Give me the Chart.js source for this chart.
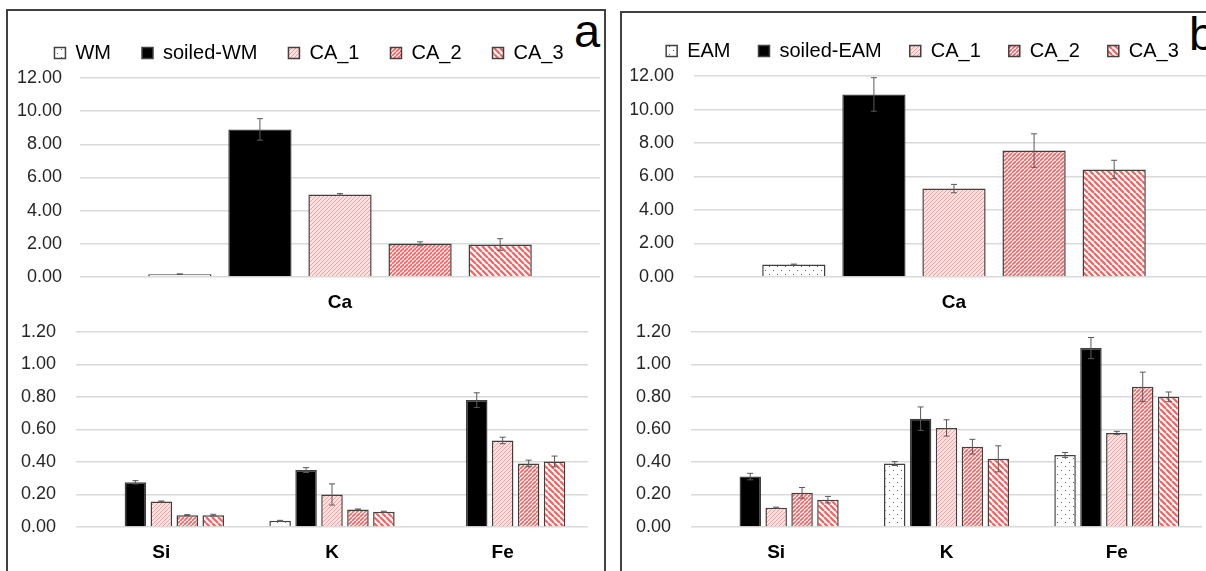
<!DOCTYPE html>
<html>
<head>
<meta charset="utf-8">
<script src="https://cdn.jsdelivr.net/npm/chart.js@4"></script>
<style>
  body { margin: 0; width: 1206px; height: 571px; overflow: hidden; background: #fff; position: relative; font-family: Arial, "Liberation Sans", sans-serif; }
  .panel { position: absolute; border: 2px solid #404040; box-sizing: border-box; }
  canvas { position: absolute; }
  .tag { position: absolute; font-size: 47px; line-height: 47px; color: #000; }
</style>
</head>
<body>
<div class="panel" style="left:6px;top:9px;width:600px;height:620px"></div>
<div class="panel" style="left:620px;top:11px;width:700px;height:620px"></div>
<div class="tag" style="left:574px;top:7px">a</div>
<div class="tag" style="left:1189px;top:10px">b</div>

<canvas id="aTop" width="592" height="305" style="left:8px;top:12px"></canvas>
<canvas id="aBottom" width="580" height="266" style="left:8px;top:301px"></canvas>
<canvas id="bTop" width="594" height="304" style="left:620px;top:13px"></canvas>
<canvas id="bBottom" width="582" height="266" style="left:620px;top:301px"></canvas>

<script>
// categories and series
const topCategories = ['Ca'];
const bottomCategories = ['Si', 'K', 'Fe'];
const seriesA = ['WM', 'soiled-WM', 'CA_1', 'CA_2', 'CA_3'];
const seriesB = ['EAM', 'soiled-EAM', 'CA_1', 'CA_2', 'CA_3'];
const topTicks = [0, 2, 4, 6, 8, 10, 12];
const bottomTicks = [0, 0.2, 0.4, 0.6, 0.8, 1.0, 1.2];

// panel a - Ca, one value per series
const caA = [0.17, 8.90, 4.98, 2.02, 1.96];
const caAErr = [0.02, 0.65, 0.05, 0.10, 0.35];

// panel a - Si, K, Fe
const wmA = [null, 0.038, null];
const soiledA = [0.275, 0.35, 0.78];
const ca1A = [0.157, 0.20, 0.532];
const ca2A = [0.073, 0.108, 0.391];
const ca3A = [0.073, 0.094, 0.403];
const wmAErr = [0, 0.003, 0];
const soiledAErr = [0.01, 0.015, 0.045];
const ca1AErr = [0.003, 0.065, 0.02];
const ca2AErr = [0.003, 0.003, 0.02];
const ca3AErr = [0.005, 0.003, 0.033];

// panel b - Ca
const caB = [0.74, 10.90, 5.28, 7.55, 6.42];
const caBErr = [0.03, 1.0, 0.25, 1.0, 0.55];

// panel b - Si, K, Fe
const eamB = [null, 0.39, 0.443];
const soiledB = [0.31, 0.666, 1.10];
const ca1B = [0.119, 0.609, 0.578];
const ca2B = [0.21, 0.494, 0.862];
const ca3B = [0.168, 0.419, 0.80];
const eamBErr = [0, 0.012, 0.015];
const soiledBErr = [0.02, 0.072, 0.065];
const ca1BErr = [0.003, 0.05, 0.01];
const ca2BErr = [0.033, 0.045, 0.09];
const ca3BErr = [0.02, 0.08, 0.03];

const FONT = 'Arial, "Liberation Sans", sans-serif';

// Fill patterns (dots, fine hatch, dense hatch, wide hatch)
function makePattern(kind) {
    const c = document.createElement('canvas');
    const s = kind === 'wide' ? 6 : kind === 'dots' ? 8 : 4;
    c.width = c.height = s;
    const g = c.getContext('2d');
    g.fillStyle = kind === 'light' ? '#ffe2e2' : '#fff';
    g.fillRect(0, 0, s, s);
    if (kind === 'dots') {
        g.fillStyle = '#606060';
        g.fillRect(1, 1, 1, 1);
        g.fillRect(5, 5, 1, 1);
    } else {
        g.strokeStyle = kind === 'light' ? '#ff9a9a' : '#ff5c5c';
        g.lineWidth = kind === 'light' ? 1 : kind === 'dense' ? 1.6 : 2.2;
        g.beginPath();
        for (let k = -1; k <= 1; k++) {
            if (kind === 'wide') { g.moveTo(k * s, 0); g.lineTo(k * s + s, s); }
            else { g.moveTo(k * s, s); g.lineTo(k * s + s, 0); }
        }
        g.stroke();
    }
    return g.createPattern(c, 'repeat');
}

const fills = [makePattern('dots'), '#000', makePattern('light'), makePattern('dense'), makePattern('wide')];

// Error bars drawn through the y scale
const errorBars = {
    id: 'errorBars',
    afterDatasetsDraw(chart) {
        const ctx = chart.ctx;
        const y = chart.scales.y;
        ctx.save();
        ctx.strokeStyle = '#595959';
        ctx.lineWidth = 1;
        chart.data.datasets.forEach((ds, i) => {
            chart.getDatasetMeta(i).data.forEach((bar, j) => {
                const v = ds.data[j], e = ds.errors[j];
                if (v == null || !e) return;
                const top = y.getPixelForValue(v + e);
                const bot = y.getPixelForValue(v - e);
                ctx.beginPath();
                ctx.moveTo(bar.x, top); ctx.lineTo(bar.x, bot);
                ctx.moveTo(bar.x - 3, top); ctx.lineTo(bar.x + 3, top);
                ctx.moveTo(bar.x - 3, bot); ctx.lineTo(bar.x + 3, bot);
                ctx.stroke();
            });
        });
        ctx.restore();
    }
};

function makeDatasets(names, values, errors) {
    return names.map((name, i) => ({
        label: name,
        data: values[i],
        errors: errors[i],
        backgroundColor: fills[i],
        borderColor: '#404040',
        borderWidth: 1.5
    }));
}

function buildChart(id, cfg) {
    return new Chart(document.getElementById(id), {
        type: 'bar',
        data: { labels: cfg.labels, datasets: cfg.datasets },
        options: {
            responsive: false,
            animation: false,
            layout: { padding: cfg.padding },
            datasets: { bar: { categoryPercentage: cfg.catPct, barPercentage: cfg.barPct } },
            scales: {
                x: {
                    grid: { display: false },
                    border: { display: false },
                    ticks: { color: '#000', padding: 6, font: { family: FONT, size: 19, weight: 'bold' } },
                    afterFit: s => { s.height = cfg.xHeight; }
                },
                y: {
                    min: cfg.ticks[0],
                    max: cfg.ticks[cfg.ticks.length - 1],
                    grid: { color: '#d9d9d9', lineWidth: 1.5, drawTicks: false },
                    border: { display: false },
                    ticks: {
                        color: '#262626',
                        padding: cfg.tickPad,
                        font: { family: FONT, size: 18 },
                        callback: v => Number(v).toFixed(2)
                    },
                    afterBuildTicks: s => { s.ticks = cfg.ticks.map(v => ({ value: v })); },
                    afterFit: s => { s.width = cfg.yWidth; }
                }
            },
            plugins: {
                legend: {
                    display: cfg.legend,
                    labels: {
                        color: '#000',
                        boxWidth: 11,
                        boxHeight: 11,
                        padding: cfg.legendPad || 31,
                        font: { family: FONT, size: 20 }
                    }
                },
                title: {
                    display: cfg.legend,
                    text: '',
                    weight: 500,
                    padding: { top: 0, bottom: 0 },
                    font: { size: 4.2 }
                },
                tooltip: { enabled: false }
            }
        },
        plugins: [errorBars]
    });
}

buildChart('aTop', {
    labels: topCategories,
    datasets: makeDatasets(seriesA, caA.map(v => [v]), caAErr.map(v => [v])),
    ticks: topTicks, legend: true, legendPad: 31, yWidth: 62, tickPad: 18, xHeight: 40,
    catPct: 0.77, barPct: 0.79, padding: { top: 0, right: 0, bottom: 0, left: 10 }
});

buildChart('aBottom', {
    labels: bottomCategories,
    datasets: makeDatasets(seriesA, [wmA, soiledA, ca1A, ca2A, ca3A],
        [wmAErr, soiledAErr, ca1AErr, ca2AErr, ca3AErr]),
    ticks: bottomTicks, legend: false, yWidth: 68, tickPad: 20, xHeight: 40,
    catPct: 0.76, barPct: 0.83, padding: { top: 15, right: 0, bottom: 0, left: 0 }
});

buildChart('bTop', {
    labels: topCategories,
    datasets: makeDatasets(seriesB, caB.map(v => [v]), caBErr.map(v => [v])),
    ticks: topTicks, legend: true, legendPad: 28, yWidth: 63, tickPad: 20, xHeight: 40,
    catPct: 0.77, barPct: 0.79, padding: { top: 0, right: 0, bottom: 0, left: 11 }
});

buildChart('bBottom', {
    labels: bottomCategories,
    datasets: makeDatasets(seriesB, [eamB, soiledB, ca1B, ca2B, ca3B],
        [eamBErr, soiledBErr, ca1BErr, ca2BErr, ca3BErr]),
    ticks: bottomTicks, legend: false, yWidth: 71, tickPad: 20, xHeight: 40,
    catPct: 0.76, barPct: 0.83, padding: { top: 15, right: 0, bottom: 0, left: 0 }
});
</script>
</body>
</html>
